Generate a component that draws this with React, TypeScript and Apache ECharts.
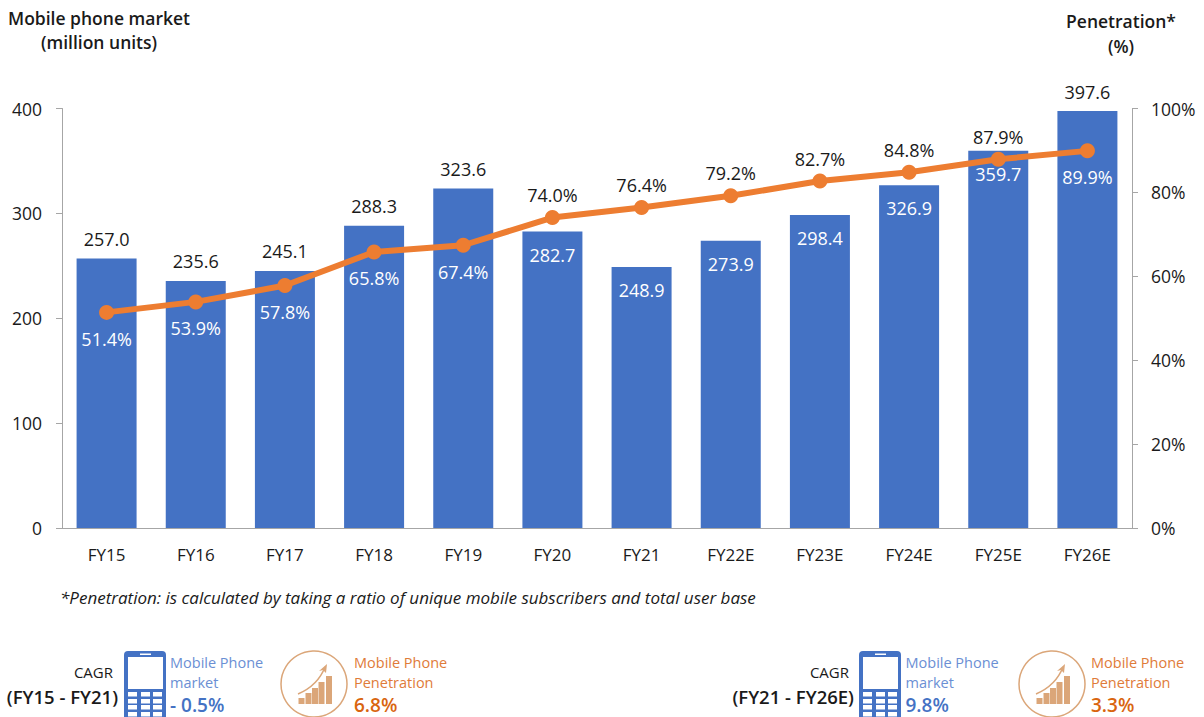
import React, { useEffect, useRef } from "react";
import * as echarts from "echarts";

const categories = ["FY15", "FY16", "FY17", "FY18", "FY19", "FY20", "FY21", "FY22E", "FY23E", "FY24E", "FY25E", "FY26E"];
const marketValues = [257.0, 235.6, 245.1, 288.3, 323.6, 282.7, 248.9, 273.9, 298.4, 326.9, 359.7, 397.6];
const penetrationValues = [51.4, 53.9, 57.8, 65.8, 67.4, 74.0, 76.4, 79.2, 82.7, 84.8, 87.9, 89.9];
const marketLabelInside = [false, false, false, false, false, true, true, true, true, true, true, false];
const penetrationLabelAbove = [false, false, false, false, false, true, true, true, true, true, true, false];

const FONT = "'Open Sans', sans-serif";
const BLUE = "#4472C4";
const ORANGE = "#ED7D31";
const ICON_ORANGE = "#DBA679";
const TEXT = "#1a1a1a";

const keyCols = [4, 17, 29];
const keyRows = [41, 48, 54, 61];

function txt(x: number, y: number, text: string, size: number, fill: string, bold = false, align = "left") {
  return { type: "text", x, y, style: { text, font: `${bold ? "600 " : ""}${size}px ${FONT}`, fill, align, verticalAlign: "middle" } };
}

function phoneIcon(x: number, y: number) {
  return {
    type: "group", x, y,
    children: [
      { type: "rect", shape: { x: 0, y: 0, width: 42, height: 72, r: 4 }, style: { fill: BLUE } },
      { type: "rect", shape: { x: 4, y: 6, width: 35, height: 32 }, style: { fill: "#fff" } },
      { type: "rect", shape: { x: 16, y: 2.5, width: 11, height: 1.5 }, style: { fill: "#fff" } },
      ...keyRows.flatMap((ky) => keyCols.map((kx) => ({ type: "rect", shape: { x: kx, y: ky, width: 9, height: 4.5 }, style: { fill: "#fff" } }))),
    ],
  };
}

const iconBars = [[0, 22, 6], [7, 17, 6], [13.5, 12, 6], [20, 6, 6], [27.5, 0, 6]];

function growthIcon(cx: number, cy: number) {
  return {
    type: "group", x: cx, y: cy,
    children: [
      { type: "circle", shape: { cx: 0, cy: 0, r: 33 }, style: { fill: "none", stroke: ICON_ORANGE, lineWidth: 1.5 } },
      ...iconBars.map(([bx, by, bw]) => ({
        type: "rect",
        shape: { x: -15.5 + bx, y: -8 + by, width: bw, height: 28 - by },
        style: { fill: ICON_ORANGE },
      })),
      { type: "bezierCurve", shape: { x1: -16, y1: 10, x2: 11, y2: -17, cpx1: -2, cpy1: 4, cpx2: 6, cpy2: -4 }, style: { fill: "none", stroke: ICON_ORANGE, lineWidth: 1.5 } },
      { type: "polygon", shape: { points: [[13, -20], [12, -11], [9, -14], [5, -13]] }, style: { fill: ICON_ORANGE } },
    ],
  };
}

function cagrBlock(o: { right: number; period: string; phoneX: number; mText: number; marketCagr: string; circleX: number; pText: number; penCagr: string }) {
  return [
    txt(o.right - 5, 672, "CAGR", 15, TEXT, false, "right"),
    txt(o.right, 696, o.period, 18.5, TEXT, true, "right"),
    phoneIcon(o.phoneX, 651),
    txt(o.mText, 662, "Mobile Phone", 14.5, "#6B8FD4"),
    txt(o.mText, 682, "market", 14.5, "#6B8FD4"),
    txt(o.mText, 705, o.marketCagr, 19, BLUE, true),
    growthIcon(o.circleX, 684),
    txt(o.pText, 662, "Mobile Phone", 14.5, "#E07B39"),
    txt(o.pText, 682, "Penetration", 14.5, "#E07B39"),
    txt(o.pText, 705, o.penCagr, 19, "#D9650F", true),
  ];
}

export default function App() {
  const ref = useRef<HTMLDivElement>(null);
  useEffect(() => {
    document.body.style.margin = "0";
    const chart = echarts.init(ref.current!, null, { renderer: "svg" });
    const axisLine = { show: true, lineStyle: { color: "#A6A6A6", width: 1 } };
    const axisLabel = { color: TEXT, fontSize: 17.5, fontFamily: FONT };
    chart.setOption({
      animation: false,
      backgroundColor: "#fff",
      textStyle: { fontFamily: FONT },
      grid: { left: 62, right: 72, top: 108.5, bottom: 189, containLabel: false },
      xAxis: {
        type: "category",
        data: categories,
        axisLine,
        axisTick: { show: false },
        axisLabel: { ...axisLabel, fontSize: 17, margin: 18 },
      },
      yAxis: [
        { type: "value", min: 0, max: 400, interval: 100, splitLine: { show: false }, axisLine, axisTick: { show: true, length: 6, lineStyle: { color: "#A6A6A6" } }, axisLabel: { ...axisLabel, margin: 20 } },
        { type: "value", min: 0, max: 100, interval: 20, position: "right", splitLine: { show: false }, axisLine, axisTick: { show: true, length: 6, lineStyle: { color: "#A6A6A6" } }, axisLabel: { ...axisLabel, margin: 19, formatter: "{value}%" } },
      ],
      series: [
        {
          type: "bar",
          barWidth: 60,
          itemStyle: { color: BLUE },
          data: marketValues.map((v, i) => ({
            value: v,
            label: {
              show: true,
              position: marketLabelInside[i] ? "insideTop" : "top",
              distance: marketLabelInside[i] ? 14 : 10.5,
              color: marketLabelInside[i] ? "#fff" : TEXT,
              fontSize: 18,
              fontFamily: FONT,
              formatter: v.toFixed(1),
            },
          })),
        },
        {
          type: "line",
          yAxisIndex: 1,
          symbol: "circle",
          symbolSize: 15,
          lineStyle: { color: ORANGE, width: 6 },
          itemStyle: { color: ORANGE },
          z: 5,
          data: penetrationValues.map((v, i) => ({
            value: v,
            label: {
              show: true,
              position: penetrationLabelAbove[i] ? "top" : "bottom",
              distance: penetrationLabelAbove[i] ? 6 : 10,
              color: penetrationLabelAbove[i] ? TEXT : "#fff",
              fontSize: 18,
              fontFamily: FONT,
              formatter: v.toFixed(1) + "%",
            },
          })),
        },
      ],
      graphic: [
        txt(99, 18, "Mobile phone market", 17.5, TEXT, true, "center"),
        txt(99, 42, "(million units)", 17.5, TEXT, true, "center"),
        txt(1121, 21, "Penetration*", 17.5, TEXT, true, "center"),
        txt(1121, 46, "(%)", 17.5, TEXT, true, "center"),
        { type: "text", x: 60, y: 597, style: { text: "*Penetration: is calculated by taking a ratio of unique mobile subscribers and total user base", font: `italic 17px ${FONT}`, fill: TEXT, verticalAlign: "middle" } },
        ...cagrBlock({ right: 118, period: "(FY15 - FY21)", phoneX: 124, mText: 170, marketCagr: "- 0.5%", circleX: 314, pText: 354, penCagr: "6.8%" }),
        ...cagrBlock({ right: 854, period: "(FY21 - FY26E)", phoneX: 859, mText: 905.5, marketCagr: "9.8%", circleX: 1052, pText: 1091, penCagr: "3.3%" }),
      ],
    });
    return () => chart.dispose();
  }, []);
  return <div ref={ref} style={{ width: 1204, height: 717 }} />;
}
